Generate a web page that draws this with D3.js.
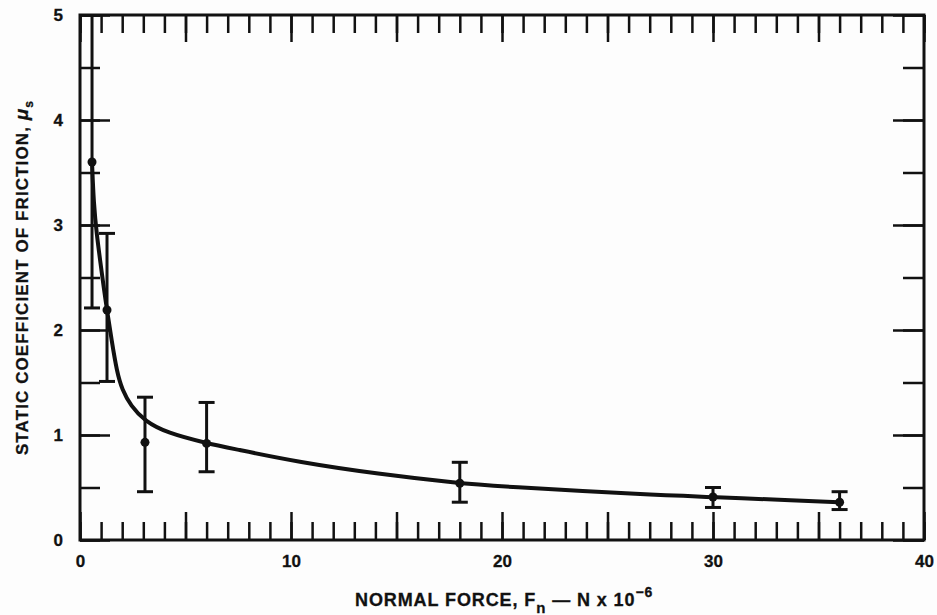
<!DOCTYPE html>
<html>
<head>
<meta charset="utf-8">
<script src="https://cdn.jsdelivr.net/npm/d3@7"></script>
<style>
  html, body { margin: 0; padding: 0; background: #fdfdfd; }
  svg { display: block; }
  text { font-family: "Liberation Sans", Arial, sans-serif; font-weight: bold; fill: #111; stroke: #111; stroke-width: 0.3; }
</style>
</head>
<body>
<div id="chart"></div>
<script>
// Measured points (normal force x 10^-6 N, static coefficient)
const pointX = [0.57, 1.28, 3.08, 6.0, 18.0, 30.0, 36.0];
const pointY = [3.6, 2.19, 0.93, 0.92, 0.54, 0.41, 0.36];
const errLow = [2.21, 1.51, 0.46, 0.65, 0.36, 0.31, 0.29];
const errHigh = [5.0, 2.92, 1.36, 1.31, 0.74, 0.50, 0.46];

// Hand-drawn fit curve
const fitX = [0.57, 0.65, 0.8, 0.95, 1.14, 1.28, 1.5, 1.75, 2.0, 2.4, 3.08, 4.12, 6.02, 7.25, 10.4, 14.1, 18.0, 19.9, 27.0, 30.0, 34.0, 36.0];
const fitY = [3.6, 3.2, 2.9, 2.67, 2.38, 2.19, 1.9, 1.6, 1.43, 1.28, 1.13, 1.02, 0.92, 0.87, 0.74, 0.63, 0.54, 0.51, 0.43, 0.41, 0.375, 0.36];

// Tick labels
const xTickLabels = [0, 10, 20, 30, 40];
const yTickLabels = [0, 1, 2, 3, 4, 5];

const W = 937, H = 615;
const margin = { top: 15, right: 13, bottom: 75, left: 80 };
const width = W - margin.left - margin.right;
const height = H - margin.top - margin.bottom;

const x = d3.scaleLinear().domain([0, 40]).range([0, width]);
const y = d3.scaleLinear().domain([0, 5]).range([height, 0]);

const svg = d3.select("#chart").append("svg")
    .attr("width", W)
    .attr("height", H);

const g = svg.append("g")
    .attr("transform", `translate(${margin.left},${margin.top})`);

// Inward ticks on all four sides
const xMinor = d3.range(0, 41, 1);
const xMajor = d3.range(0, 41, 5);
const yMinor = d3.range(0, 5.01, 0.5);
const yMajor = d3.range(0, 6, 1);

function ticks(axis, values, size, transform) {
    const a = g.append("g")
        .attr("class", "ticks")
        .call(axis.tickValues(values).tickSize(size).tickFormat(""));
    if (transform) a.attr("transform", transform);
    a.select(".domain").remove();
    a.selectAll("line").attr("stroke", "#111").attr("stroke-width", 2.5);
}

ticks(d3.axisBottom(x), xMinor, -18, `translate(0,${height})`);
ticks(d3.axisBottom(x), xMajor, -28, `translate(0,${height})`);
ticks(d3.axisTop(x), xMinor, -18);
ticks(d3.axisTop(x), xMajor, -27);
ticks(d3.axisLeft(y), yMinor, -20);
ticks(d3.axisLeft(y), yMajor, -30);
ticks(d3.axisRight(y), yMinor, -21, `translate(${width},0)`);
ticks(d3.axisRight(y), yMajor, -31, `translate(${width},0)`);

// Tick labels
const xLab = g.append("g")
    .attr("transform", `translate(0,${height})`)
    .call(d3.axisBottom(x).tickValues(xTickLabels).tickFormat(d3.format("d")).tickSize(0).tickPadding(15));
xLab.select(".domain").remove();
xLab.selectAll("text").attr("font-size", 17).attr("font-family", null).attr("fill", null);

const yLab = g.append("g")
    .call(d3.axisLeft(y).tickValues(yTickLabels).tickFormat(d3.format("d")).tickSize(0).tickPadding(17));
yLab.select(".domain").remove();
yLab.selectAll("text").attr("font-size", 17).attr("font-family", null).attr("fill", null);

// Clip so the first error bar stops at the frame
g.append("clipPath").attr("id", "plot-clip")
    .append("rect").attr("width", width).attr("height", height);

const plot = g.append("g").attr("clip-path", "url(#plot-clip)");

// Fit curve
const line = d3.line()
    .x(d => x(d[0]))
    .y(d => y(d[1]))
    .curve(d3.curveBasis);

plot.append("path")
    .datum(fitX.map((v, i) => [v, fitY[i]]))
    .attr("d", line)
    .attr("fill", "none")
    .attr("stroke", "#111")
    .attr("stroke-width", 4)
    .attr("stroke-linejoin", "round");

// Error bars and points
const pts = pointX.map((v, i) => ({ x: v, y: pointY[i], lo: errLow[i], hi: errHigh[i] }));
const capW = 8;

const bars = plot.selectAll(".err")
    .data(pts)
    .enter().append("g")
    .attr("class", "err")
    .attr("stroke", "#111")
    .attr("stroke-width", 3);

bars.append("line")
    .attr("x1", d => x(d.x)).attr("x2", d => x(d.x))
    .attr("y1", d => y(d.lo)).attr("y2", d => y(d.hi));
bars.append("line")
    .attr("x1", d => x(d.x) - capW).attr("x2", d => x(d.x) + capW)
    .attr("y1", d => y(d.lo)).attr("y2", d => y(d.lo));
bars.append("line")
    .attr("x1", d => x(d.x) - capW).attr("x2", d => x(d.x) + capW)
    .attr("y1", d => y(d.hi)).attr("y2", d => y(d.hi));

plot.selectAll(".pt")
    .data(pts)
    .enter().append("circle")
    .attr("class", "pt")
    .attr("cx", d => x(d.x))
    .attr("cy", d => y(d.y))
    .attr("r", 4.5)
    .attr("fill", "#111");

// Frame
g.append("rect")
    .attr("width", width)
    .attr("height", height)
    .attr("fill", "none")
    .attr("stroke", "#111")
    .attr("stroke-width", 3);

// Axis titles
const xTitle = svg.append("text")
    .attr("x", margin.left + x(20.1))
    .attr("y", 606)
    .attr("text-anchor", "middle")
    .attr("font-size", 18)
    .attr("letter-spacing", 0.9);
xTitle.append("tspan").text("NORMAL FORCE, F");
xTitle.append("tspan").attr("font-size", 15).attr("dy", 7).text("n");
xTitle.append("tspan").attr("dy", -7).text(" \u2014 N x 10");
xTitle.append("tspan").attr("font-size", 14).attr("dy", -9).text("\u22126");

const yTitle = svg.append("text")
    .attr("transform", `translate(28,${margin.top + y(2.5)}) rotate(-90)`)
    .attr("text-anchor", "middle")
    .attr("font-size", 17)
    .attr("letter-spacing", 1.1);
yTitle.append("tspan").text("STATIC COEFFICIENT OF FRICTION, ");
yTitle.append("tspan").attr("font-style", "italic").attr("font-size", 19).text("\u03bc");
yTitle.append("tspan").attr("font-size", 12).attr("dy", 5).text("s");
</script>
</body>
</html>
